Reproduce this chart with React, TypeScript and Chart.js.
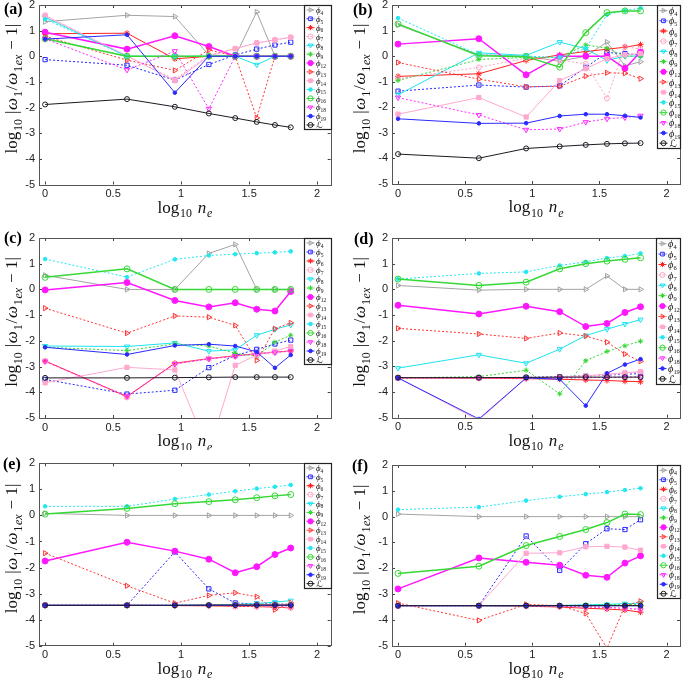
import React, { useEffect, useRef } from 'react';
import { Chart, registerables } from 'chart.js';
import { drawPoint } from 'chart.js/helpers';

Chart.register(...registerables);

// x positions: log10 of n_e = 1, 4, 9, 16, 25, 36, 49, 64
const logNe = [0, 0.602, 0.954, 1.204, 1.398, 1.556, 1.69, 1.806];
const xTicks = [0, 0.5, 1, 1.5, 2];
const yTicks = [-5, -4, -3, -2, -1, 0, 1, 2];
const seriesNames = ['4', '5', '6', '7', '8', '9', '12', '13', '14', '15', '16', '18', '19', 'L'];
const panelLabels = ['(a)', '(b)', '(c)', '(d)', '(e)', '(f)'];

// rows follow seriesNames order
const dataA = [
  [1.35, 1.6, 1.55, 0.05, 0, 1.73, 0, 0],
  [-0.13, -0.35, -0.93, -0.32, 0.05, 0.28, 0.44, 0.55],
  [0.88, 0.9, -0.1, 0, 0, 0, 0, 0],
  [1.6, 0, -0.9, 0.05, 0.3, 0.52, 0.64, 0.74],
  [1.52, 0, 0, 0, 0, -0.33, 0, 0],
  [0.7, 0, -0.02, 0, 0, 0, 0, 0],
  [0.94, 0.28, 0.8, 0.38, 0, 0, 0, 0],
  [0.78, -0.15, -0.55, 0.25, 0, -2.4, 0, 0],
  [1.58, 0.02, -0.95, 0, 0.3, 0.52, 0.64, 0.74],
  [1.45, 0, 0, 0, 0, 0, 0, 0],
  [0.68, 0, 0, 0, 0, 0, 0, 0],
  [0.68, -0.53, 0.2, -2.05, 0, 0, 0, 0],
  [0.67, 0.84, -1.42, 0, 0, 0, 0, 0],
  [-1.88, -1.67, -1.97, -2.23, -2.41, -2.56, -2.68, -2.77],
];
const dataB = [
  [1.22, 0.05, 0, -0.2, 0, 0.55, -0.38, -0.22],
  [-1.37, -1.13, -1.21, -1.16, -0.44, 0.14, 0.1, 0.05],
  [-0.79, -0.69, -0.17, 0.05, 0.18, 0.27, 0.35, 0.45],
  [-0.88, -0.44, -0.08, -0.15, -0.3, -1.65, 0.38, 0.27],
  [-1.51, 0.13, 0.03, 0.55, 0.29, -0.17, 0, 0],
  [-0.95, -0.13, -0.05, -0.05, 0.44, 0.31, 0, 0],
  [0.47, 0.68, -0.73, 0, 0, 0, -0.48, 0.16],
  [-0.25, -0.9, -1.2, -1.18, -0.78, -0.65, -0.67, -0.88],
  [-2.27, -1.62, -2.38, -0.96, -0.49, -0.1, 0.05, 0.1],
  [1.49, 0.05, 0, -0.05, 0.3, 1.62, 1.78, 1.88],
  [1.26, 0.02, -0.02, -0.43, 0.92, 1.7, 1.77, 1.77],
  [-1.62, -2.3, -2.88, -2.85, -2.58, -2.45, -2.4, -2.33],
  [-2.45, -2.63, -2.62, -2.34, -2.27, -2.27, -2.33, -2.4],
  [-3.83, -3.99, -3.61, -3.53, -3.47, -3.43, -3.41, -3.4],
];
const dataC = [
  [0.55, 0, 0, 1.4, 1.75, 0, 0, 0],
  [-3.5, -4.07, -3.92, -3.04, -2.57, -2.33, -2.12, -1.97],
  [-2.78, -4.17, -2.87, -2.69, -2.58, -2.5, -2.44, -2.39],
  [-2.8, -4.2, -2.9, -2.7, -2.6, -2.5, -2.45, -2.4],
  [-2.2, -2.22, -2.08, -2.4, -2.35, -1.78, -1.55, -1.38],
  [-2.25, -2.38, -2.12, -2.2, -2.48, -2.6, -2.05, -1.78],
  [-0.02, 0.27, -0.43, -0.68, -0.52, -0.77, -0.84, -0.08],
  [-0.73, -1.7, -1.03, -1.08, -1.4, -2.76, -1.53, -1.3],
  [-3.63, -3.03, -3.13, -6.3, -2.95, -2.55, -2.4, -2.22],
  [1.18, 0.48, 1.17, 1.32, 1.37, 1.41, 1.44, 1.48],
  [0.47, 0.8, 0, 0, 0, 0, 0, 0],
  [-2.8, -4.15, -2.9, -2.7, -2.6, -2.5, -2.45, -2.4],
  [-2.25, -2.53, -2.18, -2.13, -2.2, -2.43, -3.05, -2.55],
  [-3.44, -3.44, -3.43, -3.42, -3.41, -3.41, -3.41, -3.41],
];
const dataD = [
  [0.15, -0.03, 0, 0, 0, 0.52, 0, 0],
  [-3.45, -3.44, -3.43, -3.4, -3.37, -3.34, -3.31, -3.28],
  [-3.45, -3.46, -3.48, -3.5, -3.53, -3.55, -3.58, -3.6],
  [-3.45, -3.45, -3.45, -3.42, -3.38, -3.33, -3.28, -3.22],
  [-3.07, -2.55, -2.88, -2.33, -1.8, -1.55, -1.35, -1.18],
  [-3.45, -3.4, -3.15, -4.07, -2.78, -2.42, -2.2, -2.02],
  [-0.62, -0.96, -0.66, -0.87, -1.45, -1.33, -0.9, -0.68],
  [-1.52, -1.74, -1.91, -1.7, -1.82, -2.06, -2.52, -2.8],
  [-3.45, -5.1, -3.45, -3.42, -3.37, -3.3, -3.25, -3.2],
  [0.4, 0.62, 0.68, 0.93, 1.07, 1.22, 1.3, 1.4],
  [0.4, 0.15, 0.28, 0.8, 1.0, 1.1, 1.17, 1.23],
  [-3.45, -3.45, -3.45, -3.45, -3.44, -3.43, -3.42, -3.41],
  [-3.45, -5.05, -3.45, -3.5, -4.53, -3.27, -2.93, -2.72],
  [-3.44, -3.44, -3.43, -3.42, -3.42, -3.42, -3.42, -3.42],
];
const dataE = [
  [0.08, 0, 0, 0, 0, 0, 0, 0],
  [-3.45, -3.45, -1.4, -2.82, -3.36, -3.4, -3.4, -3.42],
  [-3.45, -3.45, -3.46, -3.47, -3.49, -3.5, -3.52, -3.55],
  [-3.45, -3.45, -3.46, -3.47, -3.48, -3.5, -3.51, -3.53],
  [-3.45, -3.45, -3.45, -3.44, -3.42, -3.38, -3.33, -3.27],
  [-3.45, -3.45, -3.45, -3.44, -3.43, -3.42, -3.41, -3.4],
  [-1.75, -1.03, -1.37, -1.68, -2.2, -1.97, -1.5, -1.25],
  [-1.45, -2.7, -3.37, -3.07, -2.97, -3.12, -3.62, -3.35],
  [-3.45, -3.45, -3.45, -3.45, -3.44, -3.43, -3.42, -3.4],
  [0.35, 0.35, 0.63, 0.8, 0.93, 1.03, 1.1, 1.17],
  [0.05, 0.27, 0.45, 0.53, 0.6, 0.68, 0.75, 0.8],
  [-3.45, -3.45, -3.45, -3.45, -3.45, -3.46, -3.47, -3.48],
  [-3.45, -3.45, -3.45, -3.45, -3.45, -3.45, -3.45, -3.45],
  [-3.45, -3.45, -3.45, -3.44, -3.44, -3.44, -3.44, -3.44],
];
const dataF = [
  [0.1, 0, 0, 0, 0, 0, 0, 0],
  [-3.45, -3.45, -0.75, -2.08, -1.05, -0.47, -0.5, -0.12],
  [-3.45, -3.45, -3.47, -3.5, -3.55, -3.58, -3.62, -3.7],
  [-3.45, -3.45, -3.46, -3.48, -3.5, -3.52, -3.55, -3.58],
  [-3.45, -3.45, -3.45, -3.44, -3.42, -3.4, -3.37, -3.35],
  [-3.45, -3.45, -3.45, -3.44, -3.43, -3.42, -3.41, -3.4],
  [-2.8, -1.6, -1.77, -1.88, -2.27, -2.35, -1.8, -1.52],
  [-3.35, -4.02, -3.4, -3.45, -3.75, -5.1, -3.45, -3.28],
  [-3.45, -3.45, -1.42, -1.4, -1.17, -1.15, -1.18, -1.3],
  [0.27, 0.37, 0.62, 0.77, 0.87, 0.95, 1.03, 1.1],
  [-2.2, -1.92, -1.12, -0.77, -0.5, -0.23, 0.1, 0.08],
  [-3.45, -3.45, -3.45, -3.46, -3.5, -3.52, -3.55, -3.6],
  [-3.45, -3.45, -3.45, -3.45, -3.45, -3.45, -3.45, -3.45],
  [-3.45, -3.45, -3.45, -3.45, -3.45, -3.45, -3.45, -3.45],
];

type Style = { color: string; dash: boolean; marker: string; rot: number; fill: boolean; r: number; w?: number };
const STYLES: Style[] = [
  { color: '#a3a3a3', dash: false, marker: 'triangle', rot: 90, fill: false, r: 3 },
  { color: '#2626ff', dash: true, marker: 'rect', rot: 0, fill: false, r: 3 },
  { color: '#ff2020', dash: false, marker: 'star', rot: 0, fill: false, r: 3 },
  { color: '#ffa3c8', dash: true, marker: 'circle', rot: 0, fill: false, r: 2.5 },
  { color: '#1ce4ee', dash: false, marker: 'triangle', rot: 180, fill: false, r: 3 },
  { color: '#33d633', dash: true, marker: 'star', rot: 0, fill: false, r: 2.5 },
  { color: '#ff18ff', dash: false, marker: 'circle', rot: 0, fill: true, r: 3, w: 1.5 },
  { color: '#ff3434', dash: true, marker: 'triangle', rot: 90, fill: false, r: 3 },
  { color: '#ffa8cf', dash: false, marker: 'rect', rot: 0, fill: true, r: 3 },
  { color: '#22e6f0', dash: true, marker: 'circle', rot: 0, fill: true, r: 1.8 },
  { color: '#36d836', dash: false, marker: 'circle', rot: 0, fill: false, r: 3, w: 1.5 },
  { color: '#ff2aff', dash: true, marker: 'triangle', rot: 180, fill: false, r: 3 },
  { color: '#2a2aff', dash: false, marker: 'circle', rot: 0, fill: true, r: 1.8 },
  { color: '#1a1a22', dash: false, marker: 'circle', rot: 0, fill: false, r: 2.5 },
];

type Cfg = {
  data: number[][]; label: string;
  left: number; top: number; w: number; h: number;
  ca: { l: number; r: number; t: number; b: number };
  legX: number; pitch: number; labX: number; labY: number; ytX: number;
};

const PANELS: Cfg[] = [
  { data: dataA, label: panelLabels[0], left: 0, top: 0, w: 340, h: 225, ca: { l: 39, r: 330.7, t: 4.3, b: 184.5 }, legX: 304, pitch: 8.85, labX: 4, labY: 10, ytX: 12 },
  { data: dataB, label: panelLabels[1], left: 340, top: 0, w: 345, h: 225, ca: { l: 52, r: 342.6, t: 4.3, b: 184 }, legX: 317, pitch: 10.2, labX: 13, labY: 11, ytX: 20 },
  { data: dataC, label: panelLabels[2], left: 0, top: 225, w: 340, h: 225, ca: { l: 39, r: 330.7, t: 13, b: 193 }, legX: 304, pitch: 9, labX: 4, labY: 14, ytX: 12 },
  { data: dataD, label: panelLabels[3], left: 340, top: 225, w: 345, h: 225, ca: { l: 52, r: 342.6, t: 13, b: 192.7 }, legX: 316, pitch: 10.4, labX: 14, labY: 15, ytX: 20 },
  { data: dataE, label: panelLabels[4], left: 0, top: 450, w: 340, h: 230, ca: { l: 39, r: 330.7, t: 13.3, b: 195.7 }, legX: 304, pitch: 8.9, labX: 3, labY: 15, ytX: 12 },
  { data: dataF, label: panelLabels[5], left: 340, top: 450, w: 345, h: 230, ca: { l: 52, r: 342.6, t: 15, b: 195.7 }, legX: 317, pitch: 9.5, labX: 12, labY: 17, ytX: 20 },
];

type Seg = { t: string; sub?: boolean; it?: boolean };
const SERIF = '"Liberation Serif", "DejaVu Serif", serif';
const yTitleSegs: Seg[] = [
  { t: 'log' }, { t: '10', sub: true }, { t: ' |' }, { t: 'ω', it: true }, { t: '1', sub: true },
  { t: '/' }, { t: 'ω', it: true }, { t: '1', sub: true }, { t: 'ex', sub: true, it: true }, { t: ' − 1|' },
];
const xTitleSegs: Seg[] = [
  { t: 'log' }, { t: '10', sub: true }, { t: ' ' }, { t: 'n', it: true }, { t: 'e', sub: true, it: true },
];

function segFont(s: Seg, size: number) {
  const sz = s.sub ? size * 0.7 : size;
  return `${s.it ? 'italic ' : ''}${sz}px ${SERIF}`;
}
function richWidth(ctx: CanvasRenderingContext2D, segs: Seg[], size: number, gap: number) {
  let w = 0;
  segs.forEach((s) => { ctx.font = segFont(s, size); w += ctx.measureText(s.t).width + gap; });
  return w - gap;
}
function drawRich(ctx: CanvasRenderingContext2D, segs: Seg[], size: number, x: number, y: number, gap: number) {
  let cx = x;
  ctx.textAlign = 'left';
  ctx.textBaseline = 'alphabetic';
  segs.forEach((s) => {
    ctx.font = segFont(s, size);
    ctx.fillText(s.t, cx, s.sub ? y + size * 0.28 : y);
    cx += ctx.measureText(s.t).width + gap;
  });
}

function makeDeco(cfg: Cfg) {
  return {
    id: 'deco',
    afterDraw(chart: any) {
      const ctx: CanvasRenderingContext2D = chart.ctx;
      const ca = chart.chartArea;
      const xs = chart.scales.x;
      const ys = chart.scales.y;
      ctx.save();
      // tick marks (inward, both sides)
      ctx.strokeStyle = '#444';
      ctx.lineWidth = 1;
      ctx.setLineDash([]);
      ctx.beginPath();
      xTicks.forEach((v) => {
        const px = Math.round(xs.getPixelForValue(v)) + 0.5;
        ctx.moveTo(px, ca.bottom); ctx.lineTo(px, ca.bottom - 3);
        ctx.moveTo(px, ca.top); ctx.lineTo(px, ca.top + 3);
      });
      yTicks.forEach((v) => {
        const py = Math.round(ys.getPixelForValue(v)) + 0.5;
        ctx.moveTo(ca.left, py); ctx.lineTo(ca.left + 3, py);
        ctx.moveTo(ca.right, py); ctx.lineTo(ca.right - 3, py);
      });
      ctx.stroke();
      // axes box
      ctx.strokeStyle = '#555';
      ctx.strokeRect(Math.round(ca.left) + 0.5, Math.round(ca.top) + 0.5, Math.round(ca.right - ca.left), Math.round(ca.bottom - ca.top));

      // legend
      const lx = Math.round(cfg.legX) + 0.5;
      const ly = Math.round(ca.top) + 0.5;
      const lw = Math.round(ca.right) - Math.round(cfg.legX);
      const lh = Math.round(cfg.pitch * 14);
      ctx.fillStyle = '#fff';
      ctx.fillRect(lx, ly, lw, lh);
      ctx.strokeStyle = '#222';
      ctx.lineWidth = 1.2;
      ctx.strokeRect(lx, ly, lw, lh);
      const fs = cfg.pitch;
      seriesNames.forEach((name, i) => {
        const st = STYLES[i];
        const cy = ly + (i + 0.5) * cfg.pitch;
        ctx.strokeStyle = st.color;
        ctx.lineWidth = 1;
        ctx.setLineDash(st.dash ? [2, 1.5] : []);
        ctx.beginPath();
        ctx.moveTo(lx + 2, cy); ctx.lineTo(lx + 10, cy);
        ctx.stroke();
        ctx.setLineDash([]);
        ctx.fillStyle = st.fill ? st.color : 'rgba(0,0,0,0)';
        drawPoint(ctx, { pointStyle: st.marker as any, rotation: st.rot, radius: Math.min(st.r, 2.6), borderWidth: 1 }, lx + 6, cy);
        ctx.fillStyle = '#111';
        ctx.textAlign = 'left';
        ctx.textBaseline = 'alphabetic';
        if (name === 'L') {
          ctx.font = `${fs}px "DejaVu Sans", sans-serif`;
          ctx.fillText('ℒ', lx + 12, cy + fs * 0.38);
        } else {
          ctx.font = `italic ${fs}px ${SERIF}`;
          ctx.fillText('ϕ', lx + 11.5, cy + fs * 0.35);
          const pw = ctx.measureText('ϕ').width;
          ctx.font = `${fs * 0.62}px ${SERIF}`;
          ctx.fillText(name, lx + 11.5 + pw, cy + fs * 0.55);
        }
      });

      // titles
      ctx.fillStyle = '#111';
      const ts = 17;
      const gap = 0.8;
      const xw = richWidth(ctx, xTitleSegs, ts, gap);
      drawRich(ctx, xTitleSegs, ts, (ca.left + ca.right) / 2 - xw / 2, ca.bottom + 28, gap);
      const yw = richWidth(ctx, yTitleSegs, ts, gap);
      ctx.save();
      ctx.translate(cfg.ytX + ts * 0.3, (ca.top + ca.bottom) / 2 - 6);
      ctx.rotate(-Math.PI / 2);
      drawRich(ctx, yTitleSegs, ts, -yw / 2, 0, gap);
      ctx.restore();

      // panel label
      ctx.font = `bold 16px ${SERIF}`;
      ctx.textAlign = 'left';
      ctx.textBaseline = 'middle';
      ctx.fillStyle = '#000';
      ctx.fillText(cfg.label, cfg.labX, cfg.labY);
      ctx.restore();
    },
  };
}

function Panel({ cfg }: { cfg: Cfg }) {
  const ref = useRef<HTMLCanvasElement>(null);
  useEffect(() => {
    const canvas = ref.current!;
    const datasets = cfg.data.map((vals, i) => {
      const st = STYLES[i];
      return {
        label: seriesNames[i],
        data: logNe.map((x, k) => ({ x, y: vals[k] })),
        borderColor: st.color,
        backgroundColor: st.color,
        borderWidth: st.w ?? 1,
        borderDash: st.dash ? [2, 2] : [],
        pointStyle: st.marker,
        pointRotation: st.rot,
        pointRadius: st.r,
        pointBorderWidth: 1,
        pointBorderColor: st.color,
        pointBackgroundColor: st.fill ? st.color : 'rgba(0,0,0,0)',
        tension: 0,
        order: 13 - i,
      };
    });
    const tickFont = { family: '"Liberation Sans", Arial, sans-serif', size: 11 };
    const chart = new Chart(canvas, {
      type: 'line',
      data: { datasets: datasets as any },
      options: {
        responsive: false,
        animation: false,
        devicePixelRatio: 1,
        events: [],
        layout: { padding: { left: 0, top: cfg.ca.t, right: cfg.w - cfg.ca.r, bottom: 0 } },
        plugins: { legend: { display: false }, tooltip: { enabled: false }, title: { display: false } },
        scales: {
          x: {
            type: 'linear',
            min: -0.045,
            max: 2.1,
            grid: { display: false, drawTicks: false },
            border: { display: false },
            afterBuildTicks: (s: any) => { s.ticks = xTicks.map((v) => ({ value: v })); },
            afterFit: (s: any) => { s.height = cfg.h - cfg.ca.b; s.paddingLeft = 0; s.paddingRight = 0; },
            ticks: { autoSkip: false, maxRotation: 0, padding: 3, font: tickFont, color: '#222', callback: (v: any) => String(v) },
          },
          y: {
            type: 'linear',
            min: -5,
            max: 2,
            grid: { display: false, drawTicks: false },
            border: { display: false },
            afterBuildTicks: (s: any) => { s.ticks = yTicks.map((v) => ({ value: v })); },
            afterFit: (s: any) => { s.width = cfg.ca.l; s.paddingTop = 0; s.paddingBottom = 0; },
            ticks: { autoSkip: false, padding: 4, font: tickFont, color: '#222', callback: (v: any) => String(v) },
          },
        },
      } as any,
      plugins: [makeDeco(cfg)],
    });
    return () => chart.destroy();
  }, [cfg]);
  return (
    <canvas
      ref={ref}
      width={cfg.w}
      height={cfg.h}
      style={{ position: 'absolute', left: cfg.left, top: cfg.top, width: cfg.w, height: cfg.h }}
    />
  );
}

export default function App() {
  return (
    <div style={{ position: 'absolute', left: 0, top: 0, width: 685, height: 680, background: '#fff', overflow: 'hidden' }}>
      {PANELS.map((p) => (
        <Panel key={p.label} cfg={p} />
      ))}
    </div>
  );
}
